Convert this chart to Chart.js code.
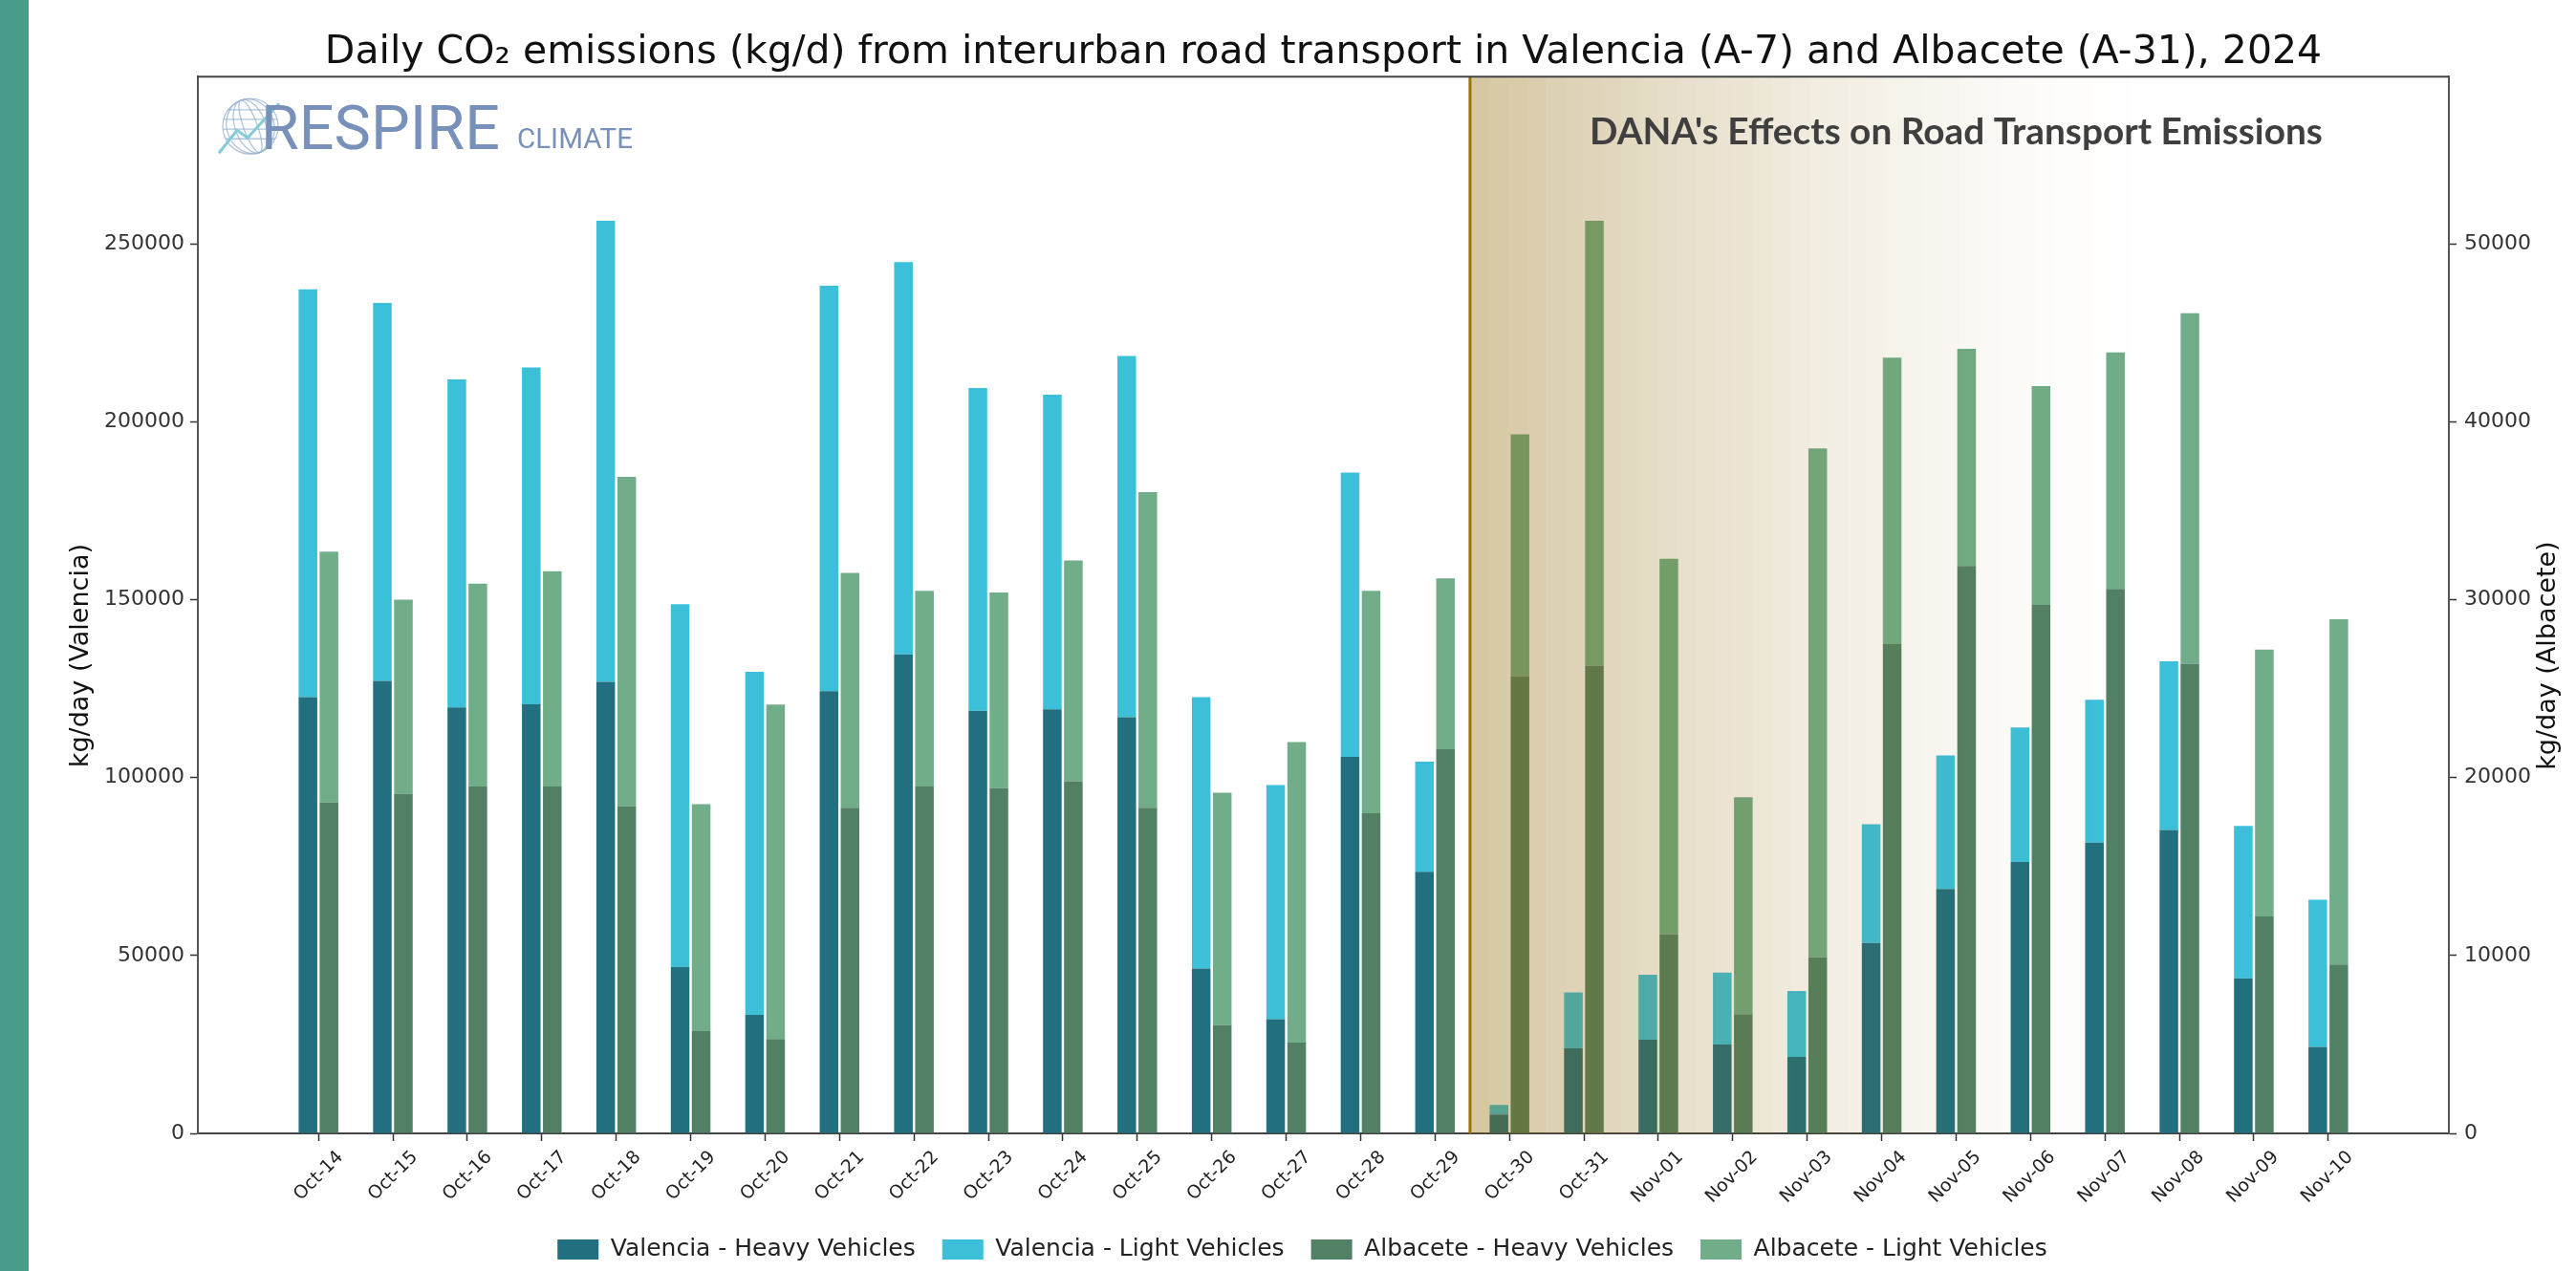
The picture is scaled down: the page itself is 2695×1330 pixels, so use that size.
<!DOCTYPE html>
<html>
<head>
<meta charset="utf-8">
<script src="https://cdn.jsdelivr.net/npm/chart.js@4.4.1/dist/chart.umd.min.js"></script>
<style>
  html, body { margin: 0; padding: 0; background: #fff; }
  canvas { display: block; }
</style>
</head>
<body>
<canvas id="co2Chart" width="2695" height="1330"></canvas>
<script>
// Days on the x axis
const dates = ['Oct-14', 'Oct-15', 'Oct-16', 'Oct-17', 'Oct-18', 'Oct-19', 'Oct-20', 'Oct-21', 'Oct-22',
    'Oct-23', 'Oct-24', 'Oct-25', 'Oct-26', 'Oct-27', 'Oct-28', 'Oct-29', 'Oct-30', 'Oct-31',
    'Nov-01', 'Nov-02', 'Nov-03', 'Nov-04', 'Nov-05', 'Nov-06', 'Nov-07', 'Nov-08', 'Nov-09', 'Nov-10'];

// Valencia (A-7), kg/day, left axis. Light is stacked on top of heavy.
const valenciaHeavy = [122600, 127200, 119700, 120600, 126900, 46800, 33300, 124300, 134600, 118800,
    119200, 117000, 46300, 32100, 105800, 73500, 5300, 23900, 26300, 25000, 21500, 53500, 68700,
    76300, 81700, 85300, 43600, 24300];
const valenciaLight = [114600, 106200, 92200, 94700, 129600, 101900, 96400, 113900, 110300, 90700,
    88400, 101500, 76300, 65800, 79900, 31000, 2700, 15700, 18300, 20200, 18500, 33400, 37500,
    37800, 40200, 47400, 42800, 41400];

// Albacete (A-31), kg/day, right axis
const albaceteHeavy = [18600, 19100, 19500, 19500, 18400, 5750, 5300, 18300, 19500, 19400, 19800,
    18300, 6100, 5100, 18000, 21600, 25700, 26300, 11200, 6700, 9900, 27500, 31900, 29700, 30600,
    26400, 12200, 9500];
const albaceteLight = [14100, 10900, 11400, 12100, 18500, 12750, 18800, 13200, 11000, 11000, 12400,
    17750, 13050, 16900, 12500, 9600, 13600, 25000, 21100, 12200, 28600, 16100, 12200, 12300, 13300,
    19700, 15000, 19400];

// Tick labels
const valenciaTicks = [0, 50000, 100000, 150000, 200000, 250000];
const albaceteTicks = [0, 10000, 20000, 30000, 40000, 50000];

// DANA shading: starts between Oct-29 and Oct-30, fades out around Nov-05
const danaStart = 15.47;
const danaFadeEnd = 24.6;

const FONT = "'DejaVu Sans', sans-serif";
const titleText = 'Daily CO\u2082 emissions (kg/d) from interurban road transport in Valencia (A-7) and Albacete (A-31), 2024';

function fitFontSize(text, family, weight, targetWidth, base) {
    const c = document.createElement('canvas').getContext('2d');
    c.font = `${weight} ${base}px ${family}`;
    return base * targetWidth / c.measureText(text).width;
}

const titleSize = Math.min(41, fitFontSize(titleText, FONT, 'normal', 2090, 40));
const titleLine = titleSize * 1.2;
const titlePadTop = Math.round(56 - titleLine / 2);

function drawLogo(ctx, left, top) {
    const cx = left + 55, cy = top + 52, r = 29;
    ctx.save();
    // globe
    ctx.strokeStyle = 'rgba(150,178,205,0.75)';
    ctx.lineWidth = 1.3;
    ctx.beginPath();
    ctx.arc(cx, cy, r, 0, Math.PI * 2);
    ctx.stroke();
    [0.25, 0.55, 0.85].forEach(k => {
        ctx.beginPath();
        ctx.ellipse(cx, cy, r * k, r, -0.35, 0, Math.PI * 2);
        ctx.stroke();
    });
    [-0.6, -0.25, 0.1, 0.45].forEach(k => {
        const yy = cy + r * k;
        const half = Math.sqrt(Math.max(0, r * r - (r * k) * (r * k)));
        ctx.beginPath();
        ctx.moveTo(cx - half, yy);
        ctx.lineTo(cx + half, yy);
        ctx.stroke();
    });
    // trend line
    ctx.strokeStyle = '#86cbd8';
    ctx.lineWidth = 3;
    ctx.beginPath();
    ctx.moveTo(cx - 33, cy + 28);
    ctx.lineTo(cx - 14, cy + 4);
    ctx.lineTo(cx - 3, cy + 12);
    ctx.lineTo(cx + 30, cy - 24);
    ctx.stroke();

    // wordmark
    ctx.fillStyle = '#7891bb';
    ctx.textBaseline = 'alphabetic';
    ctx.textAlign = 'left';
    const bigSize = fitFontSize('RESPIRE', "'Roboto', sans-serif", 'normal', 250, 52);
    ctx.font = `normal ${bigSize}px 'Roboto', sans-serif`;
    ctx.fillText('RESPIRE', left + 66, top + 76);
    const smallSize = fitFontSize('CLIMATE', "'Roboto', sans-serif", 'normal', 121, 22);
    ctx.font = `normal ${smallSize}px 'Roboto', sans-serif`;
    ctx.fillText('CLIMATE', left + 334, top + 75);
    ctx.restore();
}

const decorPlugin = {
    id: 'decor',
    beforeDraw(chart) {
        const {ctx, width, height} = chart;
        ctx.save();
        ctx.fillStyle = '#ffffff';
        ctx.fillRect(0, 0, width, height);
        ctx.fillStyle = '#4a9d8a';
        ctx.fillRect(0, 0, 30, height);
        ctx.restore();
    },
    afterDatasetsDraw(chart) {
        const {ctx, chartArea: a, scales: {x}} = chart;
        const x0 = x.getPixelForValue(danaStart);
        const x1 = x.getPixelForValue(danaFadeEnd);

        ctx.save();
        ctx.beginPath();
        ctx.rect(a.left, a.top, a.width, a.height);
        ctx.clip();

        // stepped fading shade over the DANA days
        const bands = 36;
        for (let i = 0; i < bands; i++) {
            const t = i / bands;
            const alpha = 0.36 * Math.pow(1 - t, 1.6);
            const bx = Math.round(x0 + (x1 - x0) * t);
            const bx2 = Math.round(x0 + (x1 - x0) * (i + 1) / bands);
            ctx.fillStyle = `rgba(140,100,0,${alpha.toFixed(3)})`;
            ctx.fillRect(bx, a.top, bx2 - bx, a.height);
        }

        // start marker
        ctx.strokeStyle = '#9b7207';
        ctx.lineWidth = 3;
        ctx.beginPath();
        ctx.moveTo(x0, a.top);
        ctx.lineTo(x0, a.bottom);
        ctx.stroke();
        ctx.restore();

        // top spine
        ctx.save();
        ctx.strokeStyle = '#444';
        ctx.lineWidth = 2;
        ctx.beginPath();
        ctx.moveTo(a.left, a.top);
        ctx.lineTo(a.right, a.top);
        ctx.stroke();

        // annotation
        const note = "DANA's Effects on Road Transport Emissions";
        const noteSize = fitFontSize(note, "'Lato', sans-serif", 'bold', 767, 34);
        ctx.font = `bold ${noteSize}px 'Lato', sans-serif`;
        ctx.fillStyle = '#3f3f3f';
        ctx.textAlign = 'center';
        ctx.textBaseline = 'alphabetic';
        ctx.fillText(note, x.getPixelForValue(22.0), a.top + 71);

        // axis titles
        const midY = (a.top + a.bottom) / 2 + 53;
        ctx.font = `27px ${FONT}`;
        ctx.fillStyle = '#111';
        ctx.textBaseline = 'middle';
        ctx.translate(a.left - 122, midY);
        ctx.rotate(-Math.PI / 2);
        ctx.fillText('kg/day (Valencia)', 0, 0);
        ctx.setTransform(1, 0, 0, 1, 0, 0);
        ctx.translate(a.right + 104, midY);
        ctx.rotate(-Math.PI / 2);
        ctx.fillText('kg/day (Albacete)', 0, 0);
        ctx.restore();

        drawLogo(ctx, a.left, a.top);
    }
};

const tickFont = {family: FONT, size: 22};

new Chart(document.getElementById('co2Chart'), {
    type: 'bar',
    data: {
        labels: dates.map((_, i) => i),
        datasets: [
            {label: 'Valencia - Heavy Vehicles', data: valenciaHeavy, backgroundColor: '#22707f', yAxisID: 'y', stack: 'valencia'},
            {label: 'Valencia - Light Vehicles', data: valenciaLight, backgroundColor: '#3cc0da', yAxisID: 'y', stack: 'valencia'},
            {label: 'Albacete - Heavy Vehicles', data: albaceteHeavy, backgroundColor: '#528065', yAxisID: 'y1', stack: 'albacete'},
            {label: 'Albacete - Light Vehicles', data: albaceteLight, backgroundColor: '#70ad88', yAxisID: 'y1', stack: 'albacete'}
        ]
    },
    options: {
        responsive: false,
        animation: false,
        categoryPercentage: 0.565,
        barPercentage: 0.886,
        borderWidth: 0,
        layout: {padding: {left: 30, right: 0, top: 0, bottom: 0}},
        plugins: {
            title: {
                display: true,
                text: titleText,
                fullSize: false,
                color: '#111',
                font: {family: FONT, size: titleSize, weight: 'normal', lineHeight: 1.2},
                padding: {top: titlePadTop, bottom: Math.max(0, 80 - titlePadTop - titleLine)}
            },
            legend: {
                position: 'bottom',
                labels: {
                    boxWidth: 43,
                    boxHeight: 21,
                    padding: 28,
                    color: '#222',
                    font: {family: FONT, size: 25}
                }
            },
            tooltip: {enabled: false}
        },
        scales: {
            x: {
                type: 'linear',
                bounds: 'data',
                min: -1.62,
                max: 28.62,
                offset: false,
                afterBuildTicks: axis => { axis.ticks = dates.map((_, i) => ({value: i})); },
                afterFit: axis => { axis.height = 81; },
                grid: {offset: false, drawOnChartArea: false, tickLength: 8, tickColor: '#333', tickWidth: 1.5},
                border: {display: true, color: '#444', width: 2},
                ticks: {
                    autoSkip: false,
                    minRotation: 45,
                    maxRotation: 45,
                    labelOffset: 23,
                    padding: 6,
                    color: '#222',
                    font: {family: FONT, size: 19},
                    callback: v => dates[v] ?? ''
                }
            },
            y: {
                position: 'left',
                stacked: true,
                min: 0,
                max: 297000,
                afterBuildTicks: axis => { axis.ticks = valenciaTicks.map(v => ({value: v})); },
                afterFit: axis => { axis.width = 177; },
                grid: {drawOnChartArea: false, tickLength: 8, tickColor: '#333', tickWidth: 1.5},
                border: {display: true, color: '#555', width: 2},
                ticks: {color: '#333', padding: 6, font: tickFont, callback: v => String(v)}
            },
            y1: {
                position: 'right',
                stacked: true,
                min: 0,
                max: 59400,
                afterBuildTicks: axis => { axis.ticks = albaceteTicks.map(v => ({value: v})); },
                afterFit: axis => { axis.width = 133; },
                grid: {drawOnChartArea: false, tickLength: 8, tickColor: '#333', tickWidth: 1.5},
                border: {display: true, color: '#555', width: 2},
                ticks: {color: '#333', padding: 8, font: tickFont, callback: v => String(v)}
            }
        }
    },
    plugins: [decorPlugin]
});
</script>
</body>
</html>
